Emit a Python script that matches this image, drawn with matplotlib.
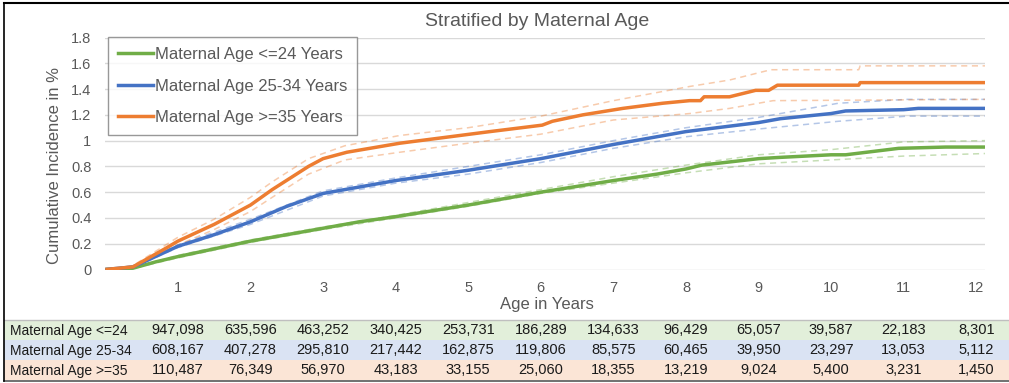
import matplotlib
matplotlib.use('Agg')
import matplotlib.pyplot as plt
from matplotlib.patches import Rectangle
from matplotlib.lines import Line2D
from matplotlib.transforms import blended_transform_factory

plt.rcParams['font.family'] = ['Liberation Sans', 'DejaVu Sans']

# --- data ---
years = [1, 2, 3, 4, 5, 6, 7, 8, 9, 10, 11, 12]

x_young = [0, 0.38, 0.7, 1, 1.5, 2, 2.5, 3, 3.5, 4, 5, 6, 7, 7.6, 8, 8.22, 9, 9.3, 10, 10.2, 10.93, 11.58, 12.13]
ci_young = [0, 0.01, 0.06, 0.10, 0.16, 0.22, 0.27, 0.32, 0.37, 0.41, 0.50, 0.60, 0.69, 0.74, 0.78, 0.81, 0.86, 0.87, 0.89, 0.89, 0.94, 0.95, 0.95]
xb_young = [0, 0.38, 1, 2, 3, 4, 5, 6, 7, 8, 9, 10, 11, 12.13]
up_young = [0, 0.012, 0.11, 0.23, 0.33, 0.42, 0.52, 0.62, 0.72, 0.81, 0.89, 0.93, 0.99, 1.00]
lo_young = [0, 0.008, 0.09, 0.21, 0.31, 0.40, 0.49, 0.59, 0.67, 0.75, 0.82, 0.85, 0.88, 0.90]

x_mid = [0, 0.38, 1, 1.5, 2, 2.5, 3, 3.3, 4, 5, 6, 7, 8, 9, 9.3, 10, 10.2, 11, 11.2, 12.13]
ci_mid = [0, 0.02, 0.18, 0.27, 0.37, 0.49, 0.59, 0.62, 0.69, 0.77, 0.86, 0.97, 1.07, 1.14, 1.17, 1.21, 1.23, 1.24, 1.25, 1.25]
xb_mid = [0, 0.38, 1, 2, 3, 4, 5, 6, 7, 8, 9, 10.1, 11.05, 12.13]
up_mid = [0, 0.025, 0.19, 0.39, 0.61, 0.71, 0.80, 0.89, 1.00, 1.10, 1.18, 1.29, 1.32, 1.32]
lo_mid = [0, 0.015, 0.17, 0.35, 0.57, 0.67, 0.74, 0.83, 0.94, 1.03, 1.09, 1.15, 1.19, 1.19]

x_old = [0, 0.38, 0.85, 1, 1.5, 2, 2.3, 2.8, 3.0, 3.33, 4.06, 4.75, 5.3, 6.02, 6.16, 6.58, 7.13, 7.68, 8.05, 8.2, 8.25,
         8.6, 8.96, 9.14, 9.26, 10.38, 10.4, 12.13]
ci_old = [0, 0.02, 0.17, 0.22, 0.35, 0.50, 0.62, 0.80, 0.86, 0.91, 0.98, 1.03, 1.07, 1.12, 1.15, 1.20, 1.25, 1.29, 1.31, 1.31, 1.34,
          1.34, 1.39, 1.39, 1.43, 1.43, 1.45, 1.45]
xu_old = [0, 0.38, 1, 1.5, 2, 2.3, 2.8, 3.3, 4.06, 5, 6, 7, 8.05, 8.6, 9.17, 10.38, 10.4, 12.13]
up_old = [0, 0.03, 0.25, 0.39, 0.56, 0.68, 0.86, 0.96, 1.04, 1.10, 1.19, 1.31, 1.42, 1.47, 1.55, 1.55, 1.58, 1.58]
xl_old = [0, 0.38, 1, 1.5, 2, 2.3, 2.8, 3.3, 4.06, 5, 6, 7, 8.05, 8.6, 9.2, 12.13]
lo_old = [0, 0.01, 0.19, 0.31, 0.45, 0.56, 0.74, 0.85, 0.91, 0.98, 1.05, 1.16, 1.21, 1.25, 1.31, 1.32]

labels = ['Maternal Age <=24 Years', 'Maternal Age 25-34 Years', 'Maternal Age >=35 Years']
row_labels = ['Maternal Age <=24', 'Maternal Age 25-34', 'Maternal Age >=35']
at_risk_young = [947098, 635596, 463252, 340425, 253731, 186289, 134633, 96429, 65057, 39587, 22183, 8301]
at_risk_mid = [608167, 407278, 295810, 217442, 162875, 119806, 85575, 60465, 39950, 23297, 13053, 5112]
at_risk_old = [110487, 76349, 56970, 43183, 33155, 25060, 18355, 13219, 9024, 5400, 3231, 1450]

GREEN, BLUE, ORANGE = '#70AD47', '#4472C4', '#ED7D31'
ROW_BG = ['#E2EFDA', '#DAE3F3', '#FBE5D6']
GREY = '#595959'

W, H = 1009, 383
fig = plt.figure(figsize=(W / 100, H / 100), dpi=100)

# plot area in pixel coords: x 105..985, y 37.5..269.5
ax = fig.add_axes([105.3 / W, 1 - 269.5 / H, (985 - 105.3) / W, 232 / H])
ax.set_xlim(0, 12.12)
ax.set_ylim(0, 1.8)

series = [
    (x_young, ci_young, xb_young, up_young, xb_young, lo_young, GREEN),
    (x_mid, ci_mid, xb_mid, up_mid, xb_mid, lo_mid, BLUE),
    (x_old, ci_old, xu_old, up_old, xl_old, lo_old, ORANGE),
]
for xs, ys, xu, yu, xl, yl, c in series:
    ax.plot(xu, yu, color=c, lw=1.1, ls=(0, (4, 3)), alpha=0.4, zorder=2)
    ax.plot(xl, yl, color=c, lw=1.1, ls=(0, (4, 3)), alpha=0.4, zorder=2)
    ax.plot(xs, ys, color=c, lw=2.5, zorder=3, solid_capstyle='butt')

ax.set_yticks([0, 0.2, 0.4, 0.6, 0.8, 1.0, 1.2, 1.4, 1.6, 1.8])
ax.set_yticklabels(['0', '0.2', '0.4', '0.6', '0.8', '1', '1.2', '1.4', '1.6', '1.8'])
ax.set_xticks(years)
ax.set_xticklabels([str(y) for y in years])
ax.tick_params(length=0, labelsize=10.5, colors=GREY, pad=8)
ax.tick_params(axis='y', pad=10)
ax.grid(axis='y', color='#D9D9D9', lw=1.0)
ax.set_axisbelow(True)
for s in ax.spines.values():
    s.set_visible(False)

handles = [Line2D([], [], color=c, lw=2.5) for c in (GREEN, BLUE, ORANGE)]
leg = ax.legend(handles, labels, loc='upper left', bbox_to_anchor=(108 / W, 1 - 37 / H),
                bbox_transform=fig.transFigure, fontsize=12, frameon=True, fancybox=False,
                handlelength=2.1, handletextpad=0.1, labelspacing=1.0, borderpad=0.6,
                borderaxespad=0)
leg.get_frame().set_edgecolor('#7F7F7F')
leg.get_frame().set_linewidth(1.0)
for t in leg.get_texts():
    t.set_color(GREY)

fig.text(537 / W, 1 - 22 / H, 'Stratified by Maternal Age', ha='center', va='center',
         fontsize=14, color=GREY)
fig.text(55 / W, 1 - 166 / H, 'Cumulative Incidence in %', rotation=90, ha='center', va='center',
         fontsize=12, color=GREY)
fig.text(547 / W, 1 - 304 / H, 'Age in Years', ha='center', va='center', fontsize=12, color=GREY)

# number-at-risk table
row_top = [320, 340, 360]
row_h = 20
tr = blended_transform_factory(ax.transData, fig.transFigure)
for top, bg, name, vals in zip(row_top, ROW_BG, row_labels, [at_risk_young, at_risk_mid, at_risk_old]):
    fig.patches.append(Rectangle((4 / W, 1 - (top + row_h) / H), 1, row_h / H,
                                 transform=fig.transFigure, facecolor=bg, edgecolor='none', zorder=0))
    yc = 1 - (top + row_h / 2 + 0.5) / H
    fig.text(10 / W, yc, name, ha='left', va='center', fontsize=10, color='#1a1a1a')
    for yr, v in zip(years, vals):
        fig.text(yr, yc, f'{v:,}', transform=tr, ha='center', va='center', fontsize=10.5, color='#1a1a1a')

fig.add_artist(Line2D([4 / W, 1], [1 - 320 / H] * 2, transform=fig.transFigure, color='#BFBFBF', lw=1))
fig.add_artist(Line2D([4 / W, 1], [1 - 381 / H] * 2, transform=fig.transFigure, color='#595959', lw=1.2))
# outer frame
fig.add_artist(Line2D([4 / W, 4 / W], [1 - 3 / H, 1 - 381 / H], transform=fig.transFigure, color='black', lw=1.2))
fig.add_artist(Line2D([4 / W, 1], [1 - 3 / H] * 2, transform=fig.transFigure, color='black', lw=1.5))

fig.savefig('out.png', dpi=100)
